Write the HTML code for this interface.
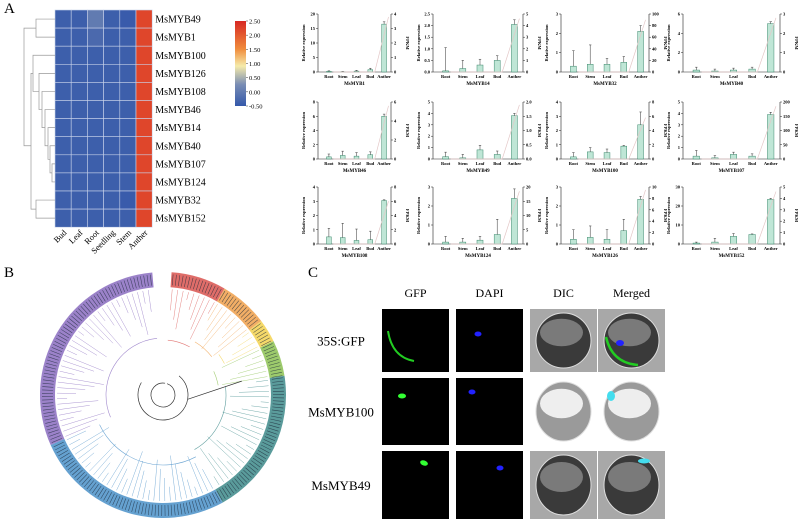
<!DOCTYPE html>
<html><head><meta charset="utf-8"><style>
html,body{margin:0;padding:0;background:#fff;}
svg{display:block;font-family:"Liberation Serif",serif;}
</style></head><body>
<svg id="fig" width="798" height="519" viewBox="0 0 798 519">
<text x="4" y="13" font-size="15">A</text>
<text x="4" y="277" font-size="15">B</text>
<text x="308" y="277" font-size="15">C</text>
<g id="heat"></g>
<g id="bars"></g>
<g id="tree"></g>
<g id="micro"></g>
</svg>
<script>
const NS="http://www.w3.org/2000/svg";
function mk(p,t,a){const e=document.createElementNS(NS,t);for(const k in a)e.setAttribute(k,a[k]);p.appendChild(e);return e;}

/* ---------- Heatmap ---------- */
const heatGenes=["MsMYB49","MsMYB1","MsMYB100","MsMYB126","MsMYB108","MsMYB46","MsMYB14","MsMYB40","MsMYB107","MsMYB124","MsMYB32","MsMYB152"];
const heatTissues=["Bud","Leaf","Root","Seedling","Stem","Anther"];
const heatValues=[
[-0.4,-0.4,0.0,-0.4,-0.45,2.2],
[-0.4,-0.4,-0.25,-0.4,-0.4,2.2],
[-0.4,-0.4,-0.4,-0.4,-0.4,2.2],
[-0.4,-0.4,-0.4,-0.4,-0.4,2.2],
[-0.4,-0.4,-0.4,-0.4,-0.4,2.2],
[-0.4,-0.4,-0.4,-0.4,-0.4,2.2],
[-0.4,-0.4,-0.4,-0.4,-0.4,2.2],
[-0.4,-0.4,-0.4,-0.4,-0.4,2.2],
[-0.4,-0.4,-0.4,-0.4,-0.4,2.2],
[-0.4,-0.4,-0.4,-0.4,-0.4,2.2],
[-0.4,-0.4,-0.4,-0.4,-0.45,2.2],
[-0.4,-0.4,-0.4,-0.4,-0.4,2.2]];
const cbTicks=["2.50","2.00","1.50","1.00","0.50","0.00","-0.50"];
function heatColor(v){
  const stops=[[-0.5,[52,88,170]],[0.25,[120,140,180]],[0.9,[245,235,170]],[1.5,[240,140,60]],[2.5,[215,40,35]]];
  for(let i=0;i<stops.length-1;i++){const a=stops[i],b=stops[i+1];
    if(v<=b[0]){const t=Math.max(0,(v-a[0])/(b[0]-a[0]));return "rgb("+a[1].map((c,j)=>Math.round(c+(b[1][j]-c)*t)).join(",")+")";}}
  return "rgb(215,40,35)";
}
(function(){
  const g=document.getElementById("heat");
  const x0=55,y0=10,cw=16.2,ch=18.1;
  heatValues.forEach((row,r)=>{row.forEach((v,c)=>{
    const e=mk(g,"rect",{x:x0+c*cw,y:y0+r*ch,width:cw,height:ch,fill:heatColor(v),stroke:"#c9d3ea","stroke-width":0.6});
    
    
  });
    const t=mk(g,"text",{x:x0+6*cw+3,y:y0+r*ch+ch/2+3.5,"font-size":10});t.textContent=heatGenes[r];
    
    
  });
  heatTissues.forEach((s,c)=>{
    const cx=x0+c*cw+cw/2+4,cy=y0+12*ch+6;
    const t=mk(g,"text",{x:cx,y:cy,"font-size":8.5,"text-anchor":"end",transform:`rotate(-45 ${cx} ${cy})`});t.textContent=s;
    
    
  });
  const lc="#999";
  const rowY=i=>y0+i*ch+ch/2;
  const P=(d)=>{const e=mk(g,"path",{d:d,fill:"none",stroke:lc,"stroke-width":0.7});};
  P(`M55 ${rowY(0)}H36V${rowY(1)}H55`);
  P(`M55 ${rowY(10)}H36V${rowY(11)}H55`);
  P(`M55 ${rowY(8)}H52V${rowY(9)}H55`);
  P(`M55 ${rowY(7)}H50V${(rowY(8)+rowY(9))/2}H52`);
  P(`M55 ${rowY(6)}H48V${(rowY(7)+rowY(8.5))/2}H50`);
  P(`M55 ${rowY(5)}H45V${rowY(7)}H48`);
  P(`M55 ${rowY(4)}H42V${rowY(6)}H45`);
  P(`M55 ${rowY(3)}H39V${rowY(5)}H42`);
  P(`M55 ${rowY(2)}H33V${rowY(4)}H39`);
  P(`M33 ${rowY(3)}H31V${rowY(10.5)}H36`);
  P(`M36 ${rowY(0.5)}H24V${rowY(7)}H31`);
  const defs=mk(g,"defs",{});const lg=mk(defs,"linearGradient",{id:"cb",x1:0,y1:1,x2:0,y2:0});
  [[0,-0.5],[0.25,0.25],[0.47,0.9],[0.67,1.5],[1,2.5]].forEach(s=>mk(lg,"stop",{offset:s[0],"stop-color":heatColor(s[1])}));
  const cb=mk(g,"rect",{x:235,y:21,width:11,height:85,fill:"url(#cb)"});
  
  
  cbTicks.forEach((t,i)=>{const y=21+i*85/6;mk(g,"line",{x1:246,x2:248,y1:y,y2:y,stroke:"#333","stroke-width":0.5});
    const tx=mk(g,"text",{x:249,y:y+2.5,"font-size":6.5});tx.textContent=t;
    
    });
})();

/* ---------- Bar charts ---------- */
const barCats=["Root","Stem","Leaf","Bud","Anther"];
const chartGenes=["MsMYB1","MsMYB14","MsMYB32","MsMYB40","MsMYB46","MsMYB49","MsMYB100","MsMYB107","MsMYB108","MsMYB124","MsMYB126","MsMYB152"];
const leftTicks=[[0,5,10,15,20],[0,0.5,1.0,1.5,2.0,2.5],[0,1,2,3],[0,2,4,6],[0,2,4,6,8],[0,1,2,3,4,5],[0,1,2,3,4],[0,1,2,3,4,5],[0,1,2,3,4],[0,1,2,3],[0,1,2,3],[0,10,20,30]];
const rightTicks=[[0,1,2,3,4],[0,1,2,3,4,5],[0,20,40,60,80,100],[0,1,2,3],[0,2,4,6],[0,0.5,1.0,1.5,2.0],[0,2,4,6,8],[0,50,100,150,200],[0,2,4,6,8],[0,5,10,15,20],[0,2,4,6,8,10],[0,1,2,3,4,5]];
const barValues=[
[0.2,0.1,0.3,0.8,16.5],[0.05,0.15,0.3,0.5,2.05],[0.3,0.4,0.4,0.5,2.1],[0.2,0.1,0.2,0.3,5.0],
[0.3,0.5,0.4,0.6,6.0],[0.2,0.1,0.8,0.4,3.8],[0.15,0.5,0.45,0.9,2.4],[0.25,0.1,0.4,0.25,3.9],
[0.5,0.45,0.25,0.3,3.05],[0.1,0.1,0.2,0.5,2.4],[0.25,0.35,0.25,0.7,2.35],[0.5,1.0,4.0,5.0,23.5]];
const barErrors=[
[0.2,0.1,0.3,0.5,0.8],[1.0,0.35,0.25,0.2,0.2],[0.8,1.0,0.3,0.3,0.3],[0.3,0.2,0.2,0.2,0.2],
[0.4,0.6,0.5,0.4,0.3],[0.4,0.3,0.4,0.3,0.2],[0.3,0.3,0.25,0.05,0.9],[0.5,0.2,0.2,0.2,0.2],
[0.6,1.0,0.8,0.6,0.05],[0.3,0.2,0.2,0.8,0.5],[0.5,0.6,0.5,0.6,0.15],[0.5,2.0,1.5,0.3,0.5]];
const fpkmValues=[
[0,0,0,0,3.8],[0,0,0,0,4.6],[0,0,0,0,90],[0,0,0,0,2.8],[0,0,0,0,5.6],[0,0,0,0,1.9],
[0,0,0,0,5.8],[0,0,0,0,185],[0,0,0,0,6.0],[0,0,0,0,18.5],[0,0,0,0,9.5],[0,0,0,0,4.6]];
(function(){
  const g=document.getElementById("bars");
  const L=[318,433,561,683],R=[391,523,649,780],T=[14,102,187],B=[72,159,244];
  chartGenes.forEach((gene,k)=>{
    const ci=k%4,ri=Math.floor(k/4);
    const x0=L[ci],x1=R[ci],y0=T[ri],y1=B[ri];
    const lt=leftTicks[k],rt=rightTicks[k];
    const lmax=lt[lt.length-1],rmax=rt[rt.length-1];
    const ys=v=>y1-(v/lmax)*(y1-y0), yr=v=>y1-(v/rmax)*(y1-y0);
    const slot=(x1-x0-4)/5, xs=i=>x0+4+slot*i+slot/2;
    const cg=mk(g,"g",{});
    
    
    mk(cg,"path",{d:`M${x0} ${y0}V${y1}H${x1}V${y0}`,fill:"none",stroke:"#222","stroke-width":0.6});
    lt.forEach(v=>{const y=ys(v);mk(cg,"line",{x1:x0-2,x2:x0,y1:y,y2:y,stroke:"#222","stroke-width":0.5});
      const t=mk(cg,"text",{x:x0-3,y:y+1.5,"font-size":4.5,"text-anchor":"end","font-weight":"bold"});t.textContent=(lt.some(q=>q%1))?v.toFixed(1):v;});
    rt.forEach(v=>{const y=yr(v);mk(cg,"line",{x1:x1,x2:x1+2,y1:y,y2:y,stroke:"#222","stroke-width":0.5});
      const t=mk(cg,"text",{x:x1+3,y:y+1.5,"font-size":4.5,"font-weight":"bold"});t.textContent=(rt.some(q=>q%1))?v.toFixed(1):v;});
    const yl=mk(cg,"text",{x:x0-13,y:(y0+y1)/2,"font-size":4.5,"font-weight":"bold","text-anchor":"middle",transform:`rotate(-90 ${x0-13} ${(y0+y1)/2})`});yl.textContent="Relative expression";
    const yr2=mk(cg,"text",{x:x1+15,y:(y0+y1)/2,"font-size":4.5,"font-weight":"bold","text-anchor":"middle",transform:`rotate(90 ${x1+15} ${(y0+y1)/2})`});yr2.textContent="FPKM";
    const bw=slot*0.35;
    barValues[k].forEach((v,i)=>{
      const b=mk(cg,"rect",{x:xs(i)-bw/2,y:ys(v),width:bw,height:y1-ys(v),fill:"#bfe6d6",stroke:"#3d8a6e","stroke-width":0.5});
      
      
      const et=ys(v+barErrors[k][i]);
      mk(cg,"path",{d:`M${xs(i)} ${ys(v)}V${et}M${xs(i)-1.2} ${et}H${xs(i)+1.2}`,stroke:"#333","stroke-width":0.5,fill:"none"});
      const t=mk(cg,"text",{x:xs(i),y:y1+6,"font-size":4.5,"font-weight":"bold","text-anchor":"middle"});t.textContent=barCats[i];
    });
    const pts=fpkmValues[k].map((v,i)=>[xs(i)+bw/2+2,yr(v)]);
    const ln=mk(cg,"polyline",{points:pts.map(p=>p.join(",")).join(" "),fill:"none",stroke:"#e4c8c8","stroke-width":0.7});
    
    
    const nm=mk(cg,"text",{x:(x0+x1)/2,y:y1+13,"font-size":5,"font-weight":"bold","text-anchor":"middle"});nm.textContent=gene;
  });
})();

/* ---------- Tree ---------- */
const cladeNames=["red","orange","yellow","green","teal","blue","purple"];
const cladeStart=[4,30,53,64,81,151,246];
const cladeEnd=[30,53,64,81,151,246,355];
const cladeColors=["#d9534f","#f0a04b","#f3d250","#8cc152","#3d8a8a","#4a90c8","#8a6cc0"];
(function(){
  const g=document.getElementById("tree");
  const cx=163,cy=395,ro=123,ri=108;
  const pt=(a,r)=>{const t=(a-90)*Math.PI/180;return [cx+r*Math.cos(t),cy+r*Math.sin(t)];};
  cladeNames.forEach((n,i)=>{
    const a0=cladeStart[i],a1=cladeEnd[i],lg=(a1-a0)>180?1:0;
    const p1=pt(a0,ro),p2=pt(a1,ro),p3=pt(a1,ri),p4=pt(a0,ri);
    const s=mk(g,"path",{d:`M${p1}A${ro} ${ro} 0 ${lg} 1 ${p2}L${p3}A${ri} ${ri} 0 ${lg} 0 ${p4}Z`,fill:cladeColors[i],opacity:0.85});
    
    
    for(let a=a0+0.8;a<a1;a+=1.6){const q1=pt(a,ri+2),q2=pt(a,ro-2);mk(g,"line",{x1:q1[0],y1:q1[1],x2:q2[0],y2:q2[1],stroke:"#1d2a3a","stroke-width":0.55,opacity:0.75});}
    for(let a=a0+1;a<a1;a+=3){const r=60+((a*37)%40);const q1=pt(a,r),q2=pt(a,ri-2);
      mk(g,"line",{x1:q1[0],y1:q1[1],x2:q2[0],y2:q2[1],stroke:cladeColors[i],"stroke-width":0.5,opacity:0.7});}
    const rm=55+(i*7)%20;const b1=pt(a0+1,rm),b2=pt(a1-1,rm);
    mk(g,"path",{d:`M${b1}A${rm} ${rm} 0 ${(a1-a0)>180?1:0} 1 ${b2}`,fill:"none",stroke:cladeColors[i],"stroke-width":0.6,opacity:0.8});
  });
  mk(g,"path",{d:`M${pt(20,12)}A12 12 0 1 1 ${pt(10,12)}`,fill:"none",stroke:"#333","stroke-width":0.7});
  mk(g,"path",{d:`M${pt(40,25)}A25 25 0 1 1 ${pt(-60,25)}`,fill:"none",stroke:"#333","stroke-width":0.7});
  mk(g,"line",{x1:pt(100,25)[0],y1:pt(100,25)[1],x2:pt(80,80)[0],y2:pt(80,80)[1],stroke:"#333","stroke-width":0.7});
})();

/* ---------- Microscopy ---------- */
const microCols=["GFP","DAPI","DIC","Merged"];
const microRows=["35S:GFP","MsMYB100","MsMYB49"];
(function(){
  const g=document.getElementById("micro");
  const X=[382,456,530,598],W=67,Y=[309,378,451],H=[63,67,68];
  microCols.forEach((c,i)=>{const t=mk(g,"text",{x:X[i]+W/2,y:297,"font-size":12,"text-anchor":"middle"});t.textContent=c;
    });
  microRows.forEach((r,j)=>{const t=mk(g,"text",{x:341,y:Y[j]+H[j]/2+5,"font-size":13,"text-anchor":"middle"});t.textContent=r;
    
    microCols.forEach((c,i)=>{
      const x=X[i],y=Y[j],h=H[j],mx=x+W/2,my=y+h/2;
      const cell=mk(g,"g",{});
      
      
      if(i<2){mk(cell,"rect",{x:x,y:y,width:W,height:h,fill:"#000"});
        if(i===0){ if(j===0) mk(cell,"path",{d:`M${x+6} ${y+22}Q${x+10} ${y+48} ${x+32} ${y+52}`,stroke:"#2c2",fill:"none","stroke-width":2});
          else mk(cell,"ellipse",{cx:j===1?x+20:x+42,cy:j===1?y+18:y+12,rx:4,ry:2.5,fill:"#3f3",transform:j===2?`rotate(20 ${x+42} ${y+12})`:""});}
        else mk(cell,"ellipse",{cx:j===0?x+22:(j===1?x+16:x+44),cy:j===0?y+25:(j===1?y+14:y+17),rx:3.5,ry:2.5,fill:"#22f"});
      } else {
        const bg=j===1?"#fff":"#a8a8a8";
        mk(cell,"rect",{x:x,y:y,width:W,height:h,fill:bg});
        mk(cell,"ellipse",{cx:mx,cy:my,rx:W/2-6,ry:h/2-4,fill:j===1?"#9a9a9a":"#3a3a3a",stroke:"#ddd","stroke-width":1});
        mk(cell,"ellipse",{cx:mx-2,cy:my-8,rx:W/2-12,ry:h/4-2,fill:j===1?"#eee":"#7a7a7a"});
        if(i===3){ if(j===0){mk(cell,"path",{d:`M${x+8} ${y+28}Q${x+14} ${y+54} ${x+40} ${y+56}`,stroke:"#2c2",fill:"none","stroke-width":2.5});mk(cell,"ellipse",{cx:x+22,cy:y+34,rx:4,ry:3,fill:"#22f"});}
          else if(j===1) mk(cell,"ellipse",{cx:x+13,cy:y+18,rx:4,ry:5,fill:"#4de"});
          else mk(cell,"ellipse",{cx:x+46,cy:y+10,rx:6,ry:2.5,fill:"#4de"});}
      }
    });
  });
})();
</script>
</body></html>
